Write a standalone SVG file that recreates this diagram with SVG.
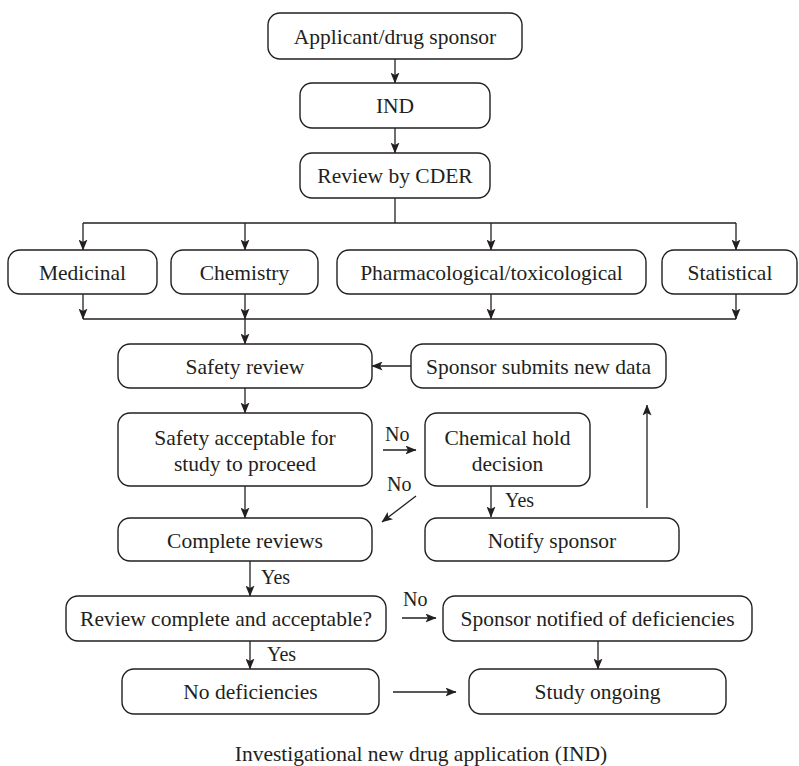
<svg xmlns="http://www.w3.org/2000/svg" width="799" height="766" viewBox="0 0 799 766">
  <style>
    .box { fill: #ffffff; stroke: #231f20; stroke-width: 1.4; }
    .lbl { font-family: "Liberation Serif", "DejaVu Serif", serif; font-size: 21.5px; fill: #231f20; text-anchor: middle; }
    .tag { font-family: "Liberation Serif", "DejaVu Serif", serif; font-size: 20px; fill: #231f20; }
    .wire { fill: none; stroke: #231f20; stroke-width: 1.3; }
    .arr { fill: none; stroke: #231f20; stroke-width: 1.3; marker-end: url(#head); }
  </style>
  <defs>
    <marker id="head" viewBox="0 0 11 9" refX="10.5" refY="4.5" markerWidth="11" markerHeight="9" markerUnits="userSpaceOnUse" orient="auto">
      <path d="M0,0 L11,4.5 L0,9 L2.5,4.5 z" fill="#231f20"/>
    </marker>
  </defs>

  <rect width="799" height="766" fill="#ffffff"/>

  <!-- connectors -->
  <g id="connectors">
    <line class="arr" x1="395" y1="59" x2="395" y2="83"/>
    <line class="arr" x1="395" y1="128" x2="395" y2="153"/>
    <line class="wire" x1="395" y1="198" x2="395" y2="223"/>
    <polyline class="wire" points="83,223 736,223"/>
    <line class="arr" x1="83" y1="223" x2="83" y2="250"/>
    <line class="arr" x1="245" y1="223" x2="245" y2="250"/>
    <line class="arr" x1="491" y1="223" x2="491" y2="250"/>
    <line class="arr" x1="736" y1="223" x2="736" y2="250"/>

    <line class="arr" x1="83" y1="294" x2="83" y2="319"/>
    <line class="arr" x1="245" y1="294" x2="245" y2="319"/>
    <line class="arr" x1="491" y1="294" x2="491" y2="319"/>
    <line class="arr" x1="736" y1="294" x2="736" y2="319"/>
    <polyline class="wire" points="83,319 736,319"/>
    <line class="arr" x1="245" y1="319" x2="245" y2="344"/>

    <line class="arr" x1="411" y1="366" x2="372" y2="366"/>
    <line class="arr" x1="245" y1="388" x2="245" y2="413"/>

    <line class="arr" x1="383" y1="450" x2="416" y2="450"/>
    <text class="tag" x="385" y="441">No</text>
    <line class="arr" x1="416" y1="496" x2="382" y2="522"/>
    <text class="tag" x="387" y="491">No</text>

    <line class="arr" x1="245" y1="486" x2="245" y2="518"/>
    <line class="arr" x1="491" y1="486" x2="491" y2="517"/>
    <text class="tag" x="505" y="507">Yes</text>
    <line class="arr" x1="647" y1="508" x2="647" y2="405"/>

    <line class="arr" x1="250" y1="561" x2="250" y2="596"/>
    <text class="tag" x="261" y="584">Yes</text>
    <line class="arr" x1="402" y1="618" x2="436" y2="618"/>
    <text class="tag" x="403" y="606">No</text>

    <line class="arr" x1="250" y1="641" x2="250" y2="669"/>
    <text class="tag" x="267" y="661">Yes</text>
    <line class="arr" x1="598" y1="641" x2="598" y2="669"/>
    <line class="arr" x1="393" y1="692" x2="456" y2="692"/>
  </g>

  <!-- nodes -->
  <g id="applicant">
    <rect class="box" x="268" y="13" width="254" height="46" rx="12"/>
    <text class="lbl" x="395" y="43.5">Applicant/drug sponsor</text>
  </g>
  <g id="ind">
    <rect class="box" x="300" y="83" width="190" height="45" rx="12"/>
    <text class="lbl" x="395" y="113">IND</text>
  </g>
  <g id="review-cder">
    <rect class="box" x="300" y="153" width="190" height="45" rx="12"/>
    <text class="lbl" x="395" y="183">Review by CDER</text>
  </g>
  <g id="medicinal">
    <rect class="box" x="8" y="250" width="149" height="44" rx="12"/>
    <text class="lbl" x="82.5" y="279.5">Medicinal</text>
  </g>
  <g id="chemistry">
    <rect class="box" x="171" y="250" width="147" height="44" rx="12"/>
    <text class="lbl" x="244.5" y="279.5">Chemistry</text>
  </g>
  <g id="pharm-tox">
    <rect class="box" x="337" y="250" width="309" height="44" rx="12"/>
    <text class="lbl" x="491.5" y="279.5">Pharmacological/toxicological</text>
  </g>
  <g id="statistical">
    <rect class="box" x="662" y="250" width="135" height="44" rx="12"/>
    <text class="lbl" x="730" y="279.5">Statistical</text>
  </g>
  <g id="safety-review">
    <rect class="box" x="118" y="344" width="254" height="44" rx="12"/>
    <text class="lbl" x="245" y="373.5">Safety review</text>
  </g>
  <g id="new-data">
    <rect class="box" x="411" y="344" width="255" height="44" rx="12"/>
    <text class="lbl" x="538.5" y="373.5">Sponsor submits new data</text>
  </g>
  <g id="safety-ok">
    <rect class="box" x="118" y="413" width="254" height="73" rx="12"/>
    <text class="lbl" x="245" y="444.5">Safety acceptable for</text>
    <text class="lbl" x="245" y="470.5">study to proceed</text>
  </g>
  <g id="hold">
    <rect class="box" x="425" y="413" width="165" height="73" rx="12"/>
    <text class="lbl" x="507.5" y="444.5">Chemical hold</text>
    <text class="lbl" x="507.5" y="470.5">decision</text>
  </g>
  <g id="complete-reviews">
    <rect class="box" x="118" y="518" width="254" height="43" rx="12"/>
    <text class="lbl" x="245" y="547.5">Complete reviews</text>
  </g>
  <g id="notify">
    <rect class="box" x="425" y="518" width="254" height="43" rx="12"/>
    <text class="lbl" x="552" y="547.5">Notify sponsor</text>
  </g>
  <g id="review-ok">
    <rect class="box" x="66" y="596" width="320" height="45" rx="12"/>
    <text class="lbl" x="226" y="625.5">Review complete and acceptable?</text>
  </g>
  <g id="deficiencies">
    <rect class="box" x="443" y="596" width="309" height="45" rx="12"/>
    <text class="lbl" x="597.5" y="625.5">Sponsor notified of deficiencies</text>
  </g>
  <g id="no-deficiencies">
    <rect class="box" x="122" y="669" width="257" height="45" rx="12"/>
    <text class="lbl" x="250.5" y="698.5">No deficiencies</text>
  </g>
  <g id="ongoing">
    <rect class="box" x="469" y="669" width="257" height="45" rx="12"/>
    <text class="lbl" x="597.5" y="698.5">Study ongoing</text>
  </g>

  <text class="lbl" x="421" y="761">Investigational new drug application (IND)</text>
</svg>
